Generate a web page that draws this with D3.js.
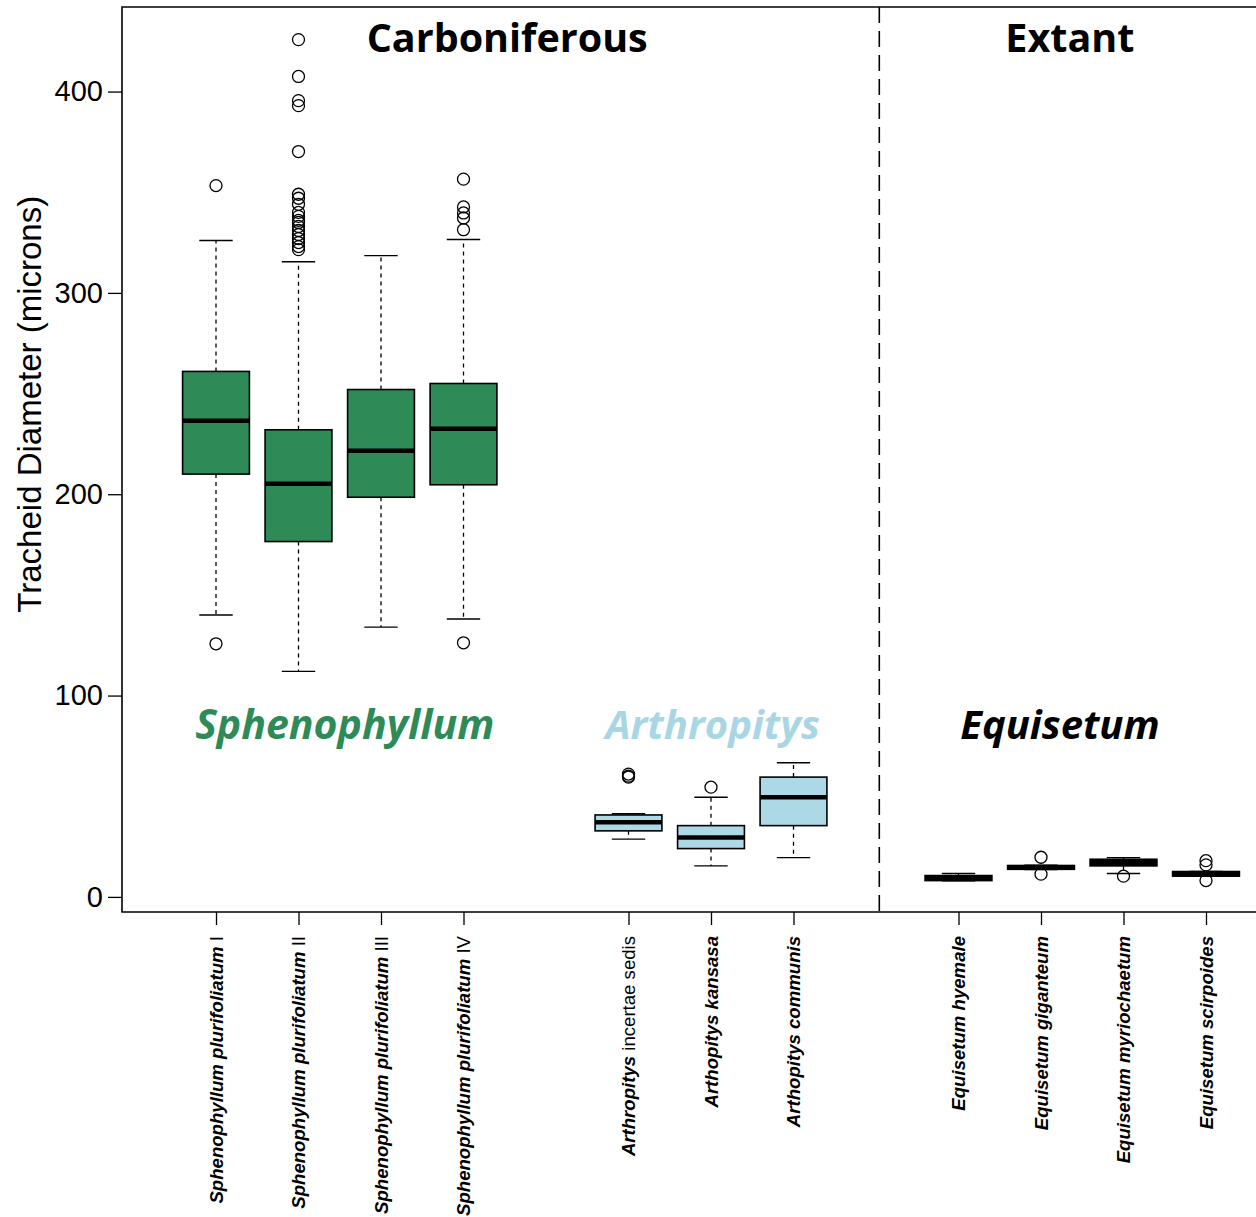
<!DOCTYPE html>
<html>
<head>
<meta charset="utf-8">
<script src="https://cdn.jsdelivr.net/npm/d3@7"></script>
<style>
  body { margin: 0; background: #fff; }
  svg { display: block; }
</style>
</head>
<body>
<div id="chart"></div>
<script>
// box positions along the x axis (gaps between groups)
const positions = [1, 2, 3, 4, 6, 7, 8, 10, 11, 12, 13];

// tick labels: [bold italic part, plain part]
const labels = [
    ["Sphenophyllum plurifoliatum", " I"],
    ["Sphenophyllum plurifoliatum", " II"],
    ["Sphenophyllum plurifoliatum", " III"],
    ["Sphenophyllum plurifoliatum", " IV"],
    ["Arthropitys", " incertae sedis"],
    ["Arthopitys kansasa", ""],
    ["Arthopitys communis", ""],
    ["Equisetum hyemale", ""],
    ["Equisetum giganteum", ""],
    ["Equisetum myriochaetum", ""],
    ["Equisetum scirpoides", ""]
];

const groupOf = ["S", "S", "S", "S", "A", "A", "A", "E", "E", "E", "E"];

// box statistics (microns)
const whiskerLow = [140, 112, 134, 138, 28.7, 15.4, 19.5, 8.0, 13.6, 11.6, 10.3];
const q1         = [210, 176.5, 198.5, 204.7, 32.8, 24.0, 35.4, 8.1, 13.7, 15.4, 10.3];
const median     = [236.5, 205.2, 221.6, 232.5, 37.1, 29.5, 49.5, 9.3, 14.6, 17.0, 11.4];
const q3         = [261, 232, 252, 255, 40.7, 35.4, 59.5, 10.6, 15.6, 18.7, 12.6];
const whiskerHigh = [326, 315.5, 318.5, 326.5, 41.3, 49.5, 66.6, 11.6, 15.8, 19.5, 12.6];

const outliers = [
    [353.3, 125.7],
    [425.8, 407.5, 395.5, 393, 370.2, 349, 347, 344, 340, 338, 336, 335, 333, 331, 329, 327, 325, 323, 321.5],
    [],
    [356.5, 342.7, 339.7, 337.2, 331.4, 126.2],
    [61, 60, 59.5],
    [54.5],
    [],
    [],
    [19.7, 11.3],
    [10.3],
    [18, 15.9, 8.1]
];

const yTicks = [0, 100, 200, 300, 400];

const groupTitles = ["Sphenophyllum", "Arthropitys", "Equisetum"];
const groupTitleAt = [2.56, 7.02, 11.23];
const periodTitles = ["Carboniferous", "Extant"];
const periodTitleAt = [4.53, 11.35];
const dividerAt = 9.04;

const boxFill = { S: "#2e8b57", A: "#add8e6", E: "#000000" };
const titleFill = ["#2e8b57", "#a9d6e5", "#000000"];

const width = 1256, height = 1217;
const plot = { left: 122, right: 1256, top: 7, bottom: 912 };

const svg = d3.select("#chart").append("svg")
    .attr("width", width)
    .attr("height", height);

const y = d3.scaleLinear().domain([-7.5, 442]).range([plot.bottom, plot.top]);
const x = d3.scaleLinear().domain([1, 13]).range([216, 1206]);
const step = x(2) - x(1);
const boxW = step * 0.81;
const capW = boxW / 2;

// frame (right side runs off the page)
svg.append("path")
    .attr("d", `M${plot.right + 5},${plot.top}H${plot.left}V${plot.bottom}H${plot.right + 5}`)
    .attr("fill", "none").attr("stroke", "#000").attr("stroke-width", 1.6);

// y axis
const yAxis = svg.append("g")
    .attr("transform", `translate(${plot.left},0)`)
    .call(d3.axisLeft(y).tickValues(yTicks).tickSize(14).tickPadding(5));
yAxis.select(".domain").remove();
yAxis.selectAll(".tick line").attr("stroke-width", 1.3);
yAxis.selectAll(".tick text")
    .style("font-family", "'Liberation Sans', Arial, sans-serif")
    .style("font-size", "29px")
    .attr("fill", "#000");

svg.append("text")
    .attr("transform", `translate(41,${y(200) - 90}) rotate(-90)`)
    .attr("text-anchor", "middle")
    .style("font-family", "'Liberation Sans', Arial, sans-serif")
    .style("font-size", "33px")
    .text("Tracheid Diameter (microns)");

// x axis ticks
const xAxis = svg.append("g")
    .attr("transform", `translate(0,${plot.bottom})`)
    .call(d3.axisBottom(x).tickValues(positions).tickSize(13).tickFormat(""));
xAxis.select(".domain").remove();
xAxis.selectAll(".tick line").attr("stroke-width", 1.3);

// tick labels, rotated
const lab = svg.append("g").selectAll("text")
    .data(positions)
    .join("text")
    .attr("transform", p => `translate(${x(p)},936) rotate(-90)`)
    .attr("text-anchor", "end")
    .attr("dy", "0.36em")
    .style("font-family", "'Liberation Sans', Arial, sans-serif")
    .style("font-size", "18.6px");
lab.append("tspan")
    .style("font-weight", "bold").style("font-style", "italic")
    .text((p, i) => labels[i][0]);
lab.append("tspan")
    .text((p, i) => labels[i][1]);

// divider between Carboniferous and Extant
svg.append("line")
    .attr("x1", x(dividerAt)).attr("x2", x(dividerAt))
    .attr("y1", plot.top).attr("y2", plot.bottom)
    .attr("stroke", "#000").attr("stroke-width", 1.6)
    .attr("stroke-dasharray", "16,8");

// boxes
const boxes = svg.append("g").selectAll("g")
    .data(positions)
    .join("g");

// whiskers
boxes.append("line")
    .attr("x1", p => x(p)).attr("x2", p => x(p))
    .attr("y1", (p, i) => y(q3[i])).attr("y2", (p, i) => y(whiskerHigh[i]))
    .attr("stroke", "#000").attr("stroke-width", 1.3).attr("stroke-dasharray", "4,4");
boxes.append("line")
    .attr("x1", p => x(p)).attr("x2", p => x(p))
    .attr("y1", (p, i) => y(q1[i])).attr("y2", (p, i) => y(whiskerLow[i]))
    .attr("stroke", "#000").attr("stroke-width", 1.3).attr("stroke-dasharray", "4,4");
// caps
boxes.append("line")
    .attr("x1", p => x(p) - capW / 2).attr("x2", p => x(p) + capW / 2)
    .attr("y1", (p, i) => y(whiskerHigh[i])).attr("y2", (p, i) => y(whiskerHigh[i]))
    .attr("stroke", "#000").attr("stroke-width", 1.4);
boxes.append("line")
    .attr("x1", p => x(p) - capW / 2).attr("x2", p => x(p) + capW / 2)
    .attr("y1", (p, i) => y(whiskerLow[i])).attr("y2", (p, i) => y(whiskerLow[i]))
    .attr("stroke", "#000").attr("stroke-width", 1.4);

boxes.append("rect")
    .attr("x", p => x(p) - boxW / 2)
    .attr("width", boxW)
    .attr("y", (p, i) => y(q3[i]))
    .attr("height", (p, i) => y(q1[i]) - y(q3[i]))
    .attr("fill", (p, i) => boxFill[groupOf[i]])
    .attr("stroke", "#000").attr("stroke-width", 1.6);

// medians
boxes.append("line")
    .attr("x1", p => x(p) - boxW / 2).attr("x2", p => x(p) + boxW / 2)
    .attr("y1", (p, i) => y(median[i])).attr("y2", (p, i) => y(median[i]))
    .attr("stroke", "#000").attr("stroke-width", 4.5);

// outliers
boxes.each(function (p, i) {
    d3.select(this).selectAll("circle")
        .data(outliers[i])
        .join("circle")
        .attr("cx", x(p))
        .attr("cy", v => y(v))
        .attr("r", 6)
        .attr("fill", "none")
        .attr("stroke", "#000")
        .attr("stroke-width", 1.3);
});

// period titles
svg.append("g").selectAll("text")
    .data(periodTitles)
    .join("text")
    .attr("x", (t, i) => x(periodTitleAt[i]))
    .attr("y", 52)
    .attr("text-anchor", "middle")
    .style("font-family", "'Open Sans', sans-serif")
    .style("font-weight", "bold")
    .style("font-size", "39.5px")
    .text(t => t);

// genus titles
svg.append("g").selectAll("text")
    .data(groupTitles)
    .join("text")
    .attr("x", (t, i) => x(groupTitleAt[i]))
    .attr("y", 739)
    .attr("text-anchor", "middle")
    .attr("fill", (t, i) => titleFill[i])
    .style("font-family", "'Open Sans', sans-serif")
    .style("font-weight", "bold")
    .style("font-style", "italic")
    .style("font-size", (t, i) => i === 0 ? "41px" : "40px")
    .text(t => t);
</script>
</body>
</html>
